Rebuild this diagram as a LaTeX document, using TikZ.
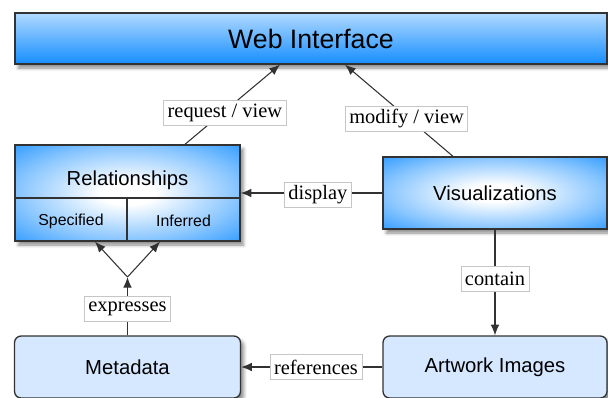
\documentclass[tikz,border=0pt]{standalone}
\usepackage{fontspec}
\setmainfont{Liberation Serif}
\setsansfont{Liberation Sans}
\usepackage{tikz}
\usetikzlibrary{arrows.meta}
\usetikzlibrary{shadows.blur}

\definecolor{deepblue}{RGB}{22,142,255}
\definecolor{paleblue}{RGB}{176,217,255}
\definecolor{lightbox}{RGB}{214,232,255}
\definecolor{edgegray}{RGB}{50,50,50}

% white centre fading out to blue near the border
\pgfdeclareradialshading{glow}{\pgfpoint{0bp}{0bp}}{%
  color(0bp)=(white); color(6bp)=(white); color(24bp)=(deepblue!50);
  color(40bp)=(deepblue); color(50bp)=(deepblue)}

\tikzset{
  part/.style={draw=edgegray, line width=1pt,
    blur shadow={shadow xshift=2.5pt, shadow yshift=-3pt, shadow blur radius=2.5pt, shadow opacity=45},
    font=\sffamily\fontsize{15.2}{18}\selectfont},
  glowbox/.style={part, shading=glow},
  paleblock/.style={part, fill=lightbox, rounded corners=5pt},
  tag/.style={draw=gray!45, fill=white, line width=0.5pt, inner xsep=3pt, inner ysep=0pt,
    minimum height=18.75pt, font=\fontsize{15.3}{18}\selectfont},
  link/.style={draw=edgegray, line width=0.8pt, -{Latex[length=8pt,width=6.5pt]}},
}

\begin{document}
\begin{tikzpicture}[x=0.75pt,y=-0.75pt]
\useasboundingbox (0,0) rectangle (608,397);
\clip (0,0) rectangle (608,397);

% boxes
\node[part, top color=paleblue, bottom color=deepblue, minimum width=444pt, minimum height=38.25pt,
  font=\sffamily\fontsize{20}{24}\selectfont] (web) at (311,38.5) {Web Interface};
\node[glowbox, minimum width=168.75pt, minimum height=72pt] (rel) at (127.5,193) {};
\node[font=\sffamily\fontsize{15.2}{18}\selectfont] (relname) at (127.5,180) {Relationships};
\draw[edgegray, line width=1pt] (15,198) -- (240,198);
\draw[edgegray, line width=1pt] (127,198) -- (127,241);
\node[font=\sffamily\fontsize{11.9}{14}\selectfont] (spec) at (71,221) {Specified};
\node[font=\sffamily\fontsize{11.9}{14}\selectfont] (infer) at (183.5,221) {Inferred};
\node[glowbox, minimum width=168pt, minimum height=54pt] (vis) at (495,193) {Visualizations};
\node[paleblock, minimum width=169.5pt, minimum height=46.5pt] (meta) at (127.5,367) {Metadata};
\node[paleblock, minimum width=168pt, minimum height=46.5pt] (art) at (495,367) {Artwork Images};
\coordinate (fork) at (127.5,277);

% connectors
\draw[link] ([xshift=43.1pt]rel.north) -- node[tag, pos=0.42, yshift=-1.5pt] (req) {request / view} ([xshift=-23.25pt]web.south);
\draw[link] ([xshift=-31.5pt]vis.north) -- node[tag, pos=0.43, yshift=-1.5pt] (mod) {modify / view} ([xshift=25.5pt]web.south);
\draw[link] (vis.west) -- node[tag, pos=0.455, yshift=-1pt] (disp) {display} (rel.east);
\draw[link] (vis.south) -- node[tag, pos=0.467] (cont) {contain} (art.north);
\draw[link] (art.west) -- node[tag, pos=0.47] (refs) {references} (meta.east);
\draw[link] (meta.north) -- node[tag, pos=0.47, yshift=-1pt] (expr) {expresses} (fork);
\draw[link] (fork) -- ([xshift=-24.4pt]rel.south);
\draw[link] (fork) -- ([xshift=24.4pt]rel.south);
\end{tikzpicture}
\end{document}
